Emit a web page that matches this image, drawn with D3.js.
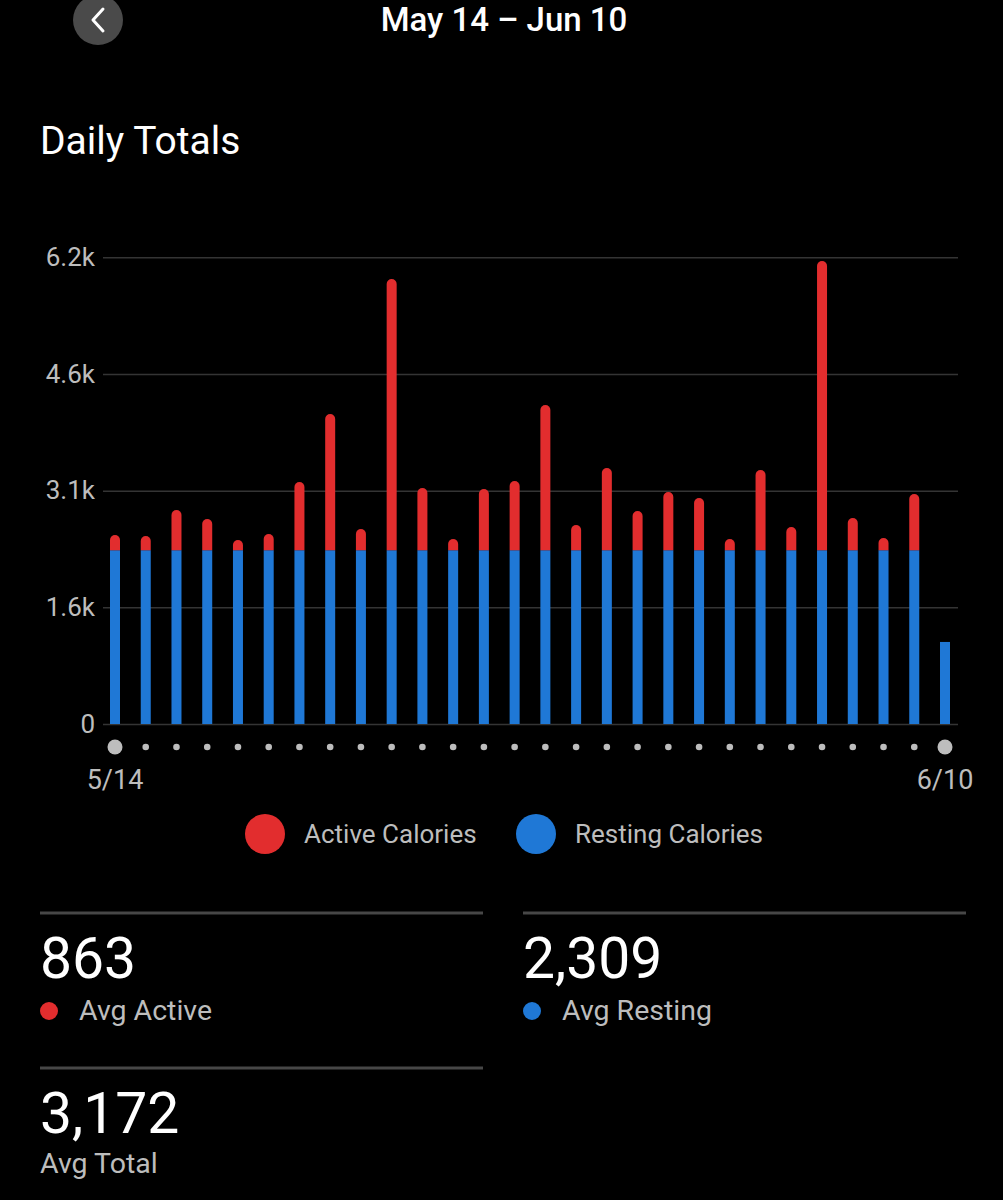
<!DOCTYPE html>
<html>
<head>
<meta charset="utf-8">
<script src="https://cdn.jsdelivr.net/npm/d3@7"></script>
<style>
  html, body { margin: 0; padding: 0; background: #000; }
  svg { display: block; font-family: Roboto, "Noto Sans", sans-serif; }
</style>
</head>
<body>
<div id="chart"></div>
<script>
var days = ["5/14","5/15","5/16","5/17","5/18","5/19","5/20","5/21","5/22","5/23",
            "5/24","5/25","5/26","5/27","5/28","5/29","5/30","5/31","6/1","6/2",
            "6/3","6/4","6/5","6/6","6/7","6/8","6/9","6/10"];
var resting = [2309,2309,2309,2309,2309,2309,2309,2309,2309,2309,
               2309,2309,2309,2309,2309,2309,2309,2309,2309,2309,
               2309,2309,2309,2309,2309,2309,2309,1090];
var active = [202,189,534,414,136,215,906,1810,282,3603,
              826,149,813,919,1929,335,1092,521,773,694,
              149,1066,308,3842,428,162,747,0];
var tickValues = [0, 1550, 3100, 4650, 6200];
var tickLabels = ["0", "1.6k", "3.1k", "4.6k", "6.2k"];
var dateLabels = ["5/14", "6/10"];
var seriesNames = ["Active Calories", "Resting Calories"];
var statValues = ["863", "2,309", "3,172"];
var statNames = ["Avg Active", "Avg Resting", "Avg Total"];

var red = "#e22d2e", blue = "#1f78d6", grey = "#bdbdbd";
var width = 1003, height = 1200;

var svg = d3.select("#chart").append("svg")
  .attr("width", width)
  .attr("height", height);

// header
svg.append("circle").attr("cx", 98).attr("cy", 20).attr("r", 25).attr("fill", "#4a4a4a");
svg.append("path")
  .attr("d", "M103,9 L93,20 L103,31")
  .attr("fill", "none").attr("stroke", "#fff")
  .attr("stroke-width", 3).attr("stroke-linecap", "round").attr("stroke-linejoin", "round");
svg.append("text")
  .attr("x", 504).attr("y", 31)
  .attr("text-anchor", "middle")
  .attr("fill", "#fff").attr("font-size", 33).attr("font-weight", 500)
  .text("May 14 \u2013 Jun 10");
svg.append("text")
  .attr("x", 40).attr("y", 154)
  .attr("fill", "#fff").attr("font-size", 39)
  .text("Daily Totals");

// scales
var y = d3.scaleLinear().domain([0, 6200]).range([724, 257.3]);
var x = d3.scalePoint().domain(days).range([115, 945]);

var yAxis = d3.axisLeft(y)
  .tickValues(tickValues)
  .tickFormat(function(d, i) { return tickLabels[i]; })
  .tickSize(-(958 - 103))
  .tickPadding(8);

var gy = svg.append("g")
  .attr("transform", "translate(103,0)")
  .call(yAxis);
gy.select(".domain").remove();
gy.selectAll("line").attr("stroke", "#343434").attr("stroke-width", 1.5);
gy.selectAll("text")
  .attr("fill", grey).attr("font-size", 26)
  .attr("font-family", "Roboto, sans-serif");

// bars
var barW = 10;
var data = days.map(function(d, i) {
  return {day: d, resting: resting[i], active: active[i]};
});

var bars = svg.append("g").selectAll("g")
  .data(data)
  .enter().append("g");

bars.append("rect")
  .attr("x", function(d) { return x(d.day) - barW / 2; })
  .attr("y", function(d) { return y(d.resting); })
  .attr("width", barW)
  .attr("height", function(d) { return y(0) - y(d.resting); })
  .attr("fill", blue);

function roundTop(x0, yTop, yBot, w) {
  var r = w / 2;
  return "M" + x0 + "," + yBot +
    "L" + x0 + "," + (yTop + r) +
    "A" + r + "," + r + " 0 0 1 " + (x0 + w) + "," + (yTop + r) +
    "L" + (x0 + w) + "," + yBot + "Z";
}

bars.filter(function(d) { return d.active > 0; })
  .append("path")
  .attr("d", function(d) {
    return roundTop(x(d.day) - barW / 2, y(d.resting + d.active), y(d.resting), barW);
  })
  .attr("fill", red);

// x dots
svg.append("g").selectAll("circle")
  .data(days)
  .enter().append("circle")
  .attr("cx", function(d) { return x(d); })
  .attr("cy", 747)
  .attr("r", function(d, i) { return (i === 0 || i === days.length - 1) ? 7.5 : 3.3; })
  .attr("fill", grey);

svg.append("g").selectAll("text")
  .data(dateLabels)
  .enter().append("text")
  .attr("x", function(d) { return x(d); })
  .attr("y", 789)
  .attr("text-anchor", "middle")
  .attr("fill", grey).attr("font-size", 27)
  .text(function(d) { return d; });

// legend
var legend = svg.append("g").selectAll("g")
  .data(seriesNames)
  .enter().append("g")
  .attr("transform", function(d, i) { return "translate(" + (265 + i * 271) + ",834)"; });
legend.append("circle")
  .attr("r", 20)
  .attr("fill", function(d, i) { return i === 0 ? red : blue; });
legend.append("text")
  .attr("x", 39).attr("y", 9)
  .attr("fill", grey).attr("font-size", 26)
  .text(function(d) { return d; });

// stats
var statPos = [[40, 913], [523, 913], [40, 1068]];
var stats = svg.append("g").selectAll("g")
  .data(statValues)
  .enter().append("g")
  .attr("transform", function(d, i) { return "translate(" + statPos[i][0] + "," + statPos[i][1] + ")"; });
stats.append("line")
  .attr("x1", 0).attr("x2", 443)
  .attr("stroke", "#474747").attr("stroke-width", 3);
stats.append("text")
  .attr("y", 65)
  .attr("fill", "#fff").attr("font-size", 57)
  .text(function(d) { return d; });
stats.filter(function(d, i) { return i < 2; })
  .append("circle")
  .attr("cx", 9).attr("cy", 98).attr("r", 9)
  .attr("fill", function(d, i) { return i === 0 ? red : blue; });
stats.append("text")
  .attr("x", function(d, i) { return i < 2 ? 39 : 0; })
  .attr("y", function(d, i) { return i < 2 ? 107 : 105; })
  .attr("fill", grey).attr("font-size", 28.5)
  .text(function(d, i) { return statNames[i]; });
</script>
</body>
</html>
